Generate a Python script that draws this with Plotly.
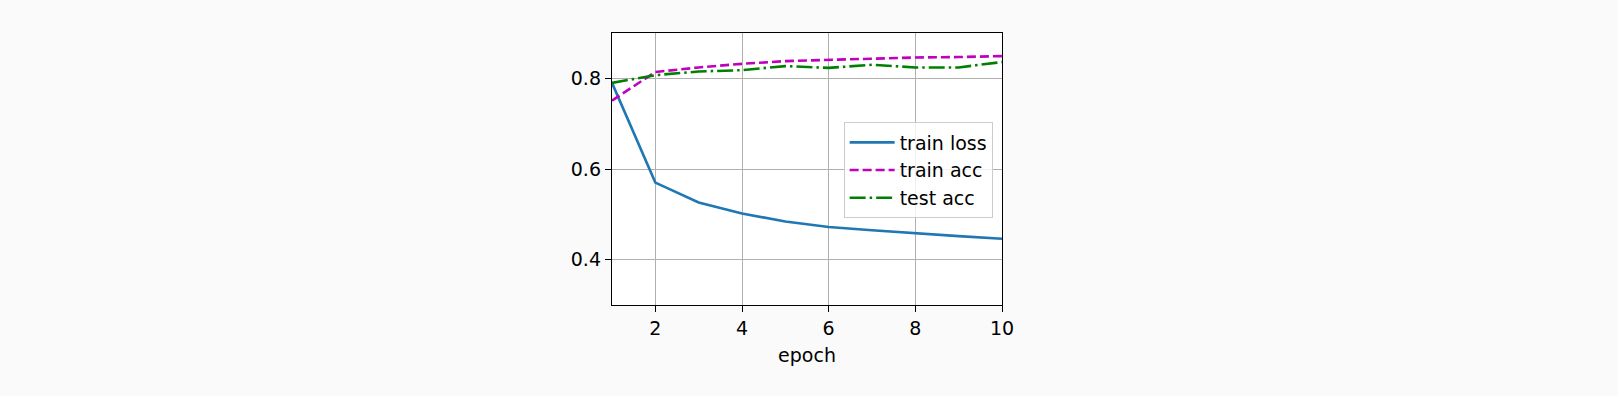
import plotly.graph_objects as go

epochs = [1, 2, 3, 4, 5, 6, 7, 8, 9, 10]
train_loss = [0.790, 0.570, 0.526, 0.502, 0.484, 0.472, 0.465, 0.458, 0.452, 0.446]
train_acc = [0.751, 0.814, 0.824, 0.832, 0.838, 0.841, 0.844, 0.846, 0.847, 0.849]
test_acc = [0.790, 0.807, 0.815, 0.818, 0.827, 0.823, 0.830, 0.824, 0.824, 0.836]
series_names = ["train loss", "train acc", "test acc"]
x_ticks = [2, 4, 6, 8, 10]
y_ticks = [0.4, 0.6, 0.8]

FS = 19

fig = go.Figure()
fig.add_trace(go.Scatter(x=epochs, y=train_loss, mode="lines", name=series_names[0],
                         line=dict(color="#1f77b4", width=2.6)))
fig.add_trace(go.Scatter(x=epochs, y=train_acc, mode="lines", name=series_names[1],
                         line=dict(color="#bf00bf", width=2.6, dash="9px,4px")))
fig.add_trace(go.Scatter(x=epochs, y=test_acc, mode="lines", name=series_names[2],
                         line=dict(color="#008000", width=2.6, dash="16px,4px,2.5px,4px")))

axis_common = dict(showline=True, linecolor="black", linewidth=1.4, mirror=True,
                   ticks="outside", ticklen=6, tickwidth=1.4, tickcolor="black",
                   showgrid=True, gridcolor="#b0b0b0", gridwidth=1.4, zeroline=False,
                   tickfont=dict(family="DejaVu Sans", size=FS, color="black"))

fig.update_xaxes(range=[1, 10], tickvals=x_ticks, ticktext=[str(v) for v in x_ticks],
                 title=dict(text="epoch", font=dict(family="DejaVu Sans", size=FS, color="black"),
                            standoff=10),
                 **axis_common)
fig.update_yaxes(range=[0.3, 0.9], tickvals=y_ticks, ticktext=[f"{v:.1f}" for v in y_ticks],
                 **axis_common)

fig.update_layout(
    width=1618, height=396,
    margin=dict(l=612, r=616, t=33, b=91),
    paper_bgcolor="#fafafa", plot_bgcolor="white",
    font=dict(family="DejaVu Sans", size=FS, color="black"),
    legend=dict(x=0.976, xanchor="right", y=0.671, yanchor="top",
                bgcolor="rgba(255,255,255,0.8)", bordercolor="#cccccc", borderwidth=1,
                font=dict(family="DejaVu Sans", size=FS, color="black"),
                itemwidth=45, tracegroupgap=0),
    showlegend=True,
)

fig.write_html("out.html", config={"displayModeBar": False},
               post_script="document.body.style.margin='0';document.body.style.background='#fafafa';")
